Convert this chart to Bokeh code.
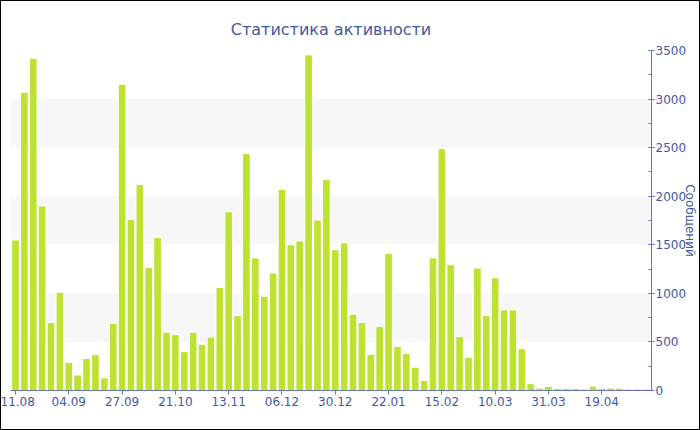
from bokeh.plotting import figure
from bokeh.models import Range1d, FixedTicker, SingleIntervalTicker, InlineStyleSheet
from bokeh.embed import file_html
from bokeh.resources import INLINE

values = [1550, 3070, 3420, 1900, 700, 1010, 290, 160, 330, 370, 130, 690,
          3150, 1760, 2120, 1265, 1575, 600, 575, 400, 600, 475, 550, 1060,
          1840, 770, 2440, 1365, 970, 1210, 2070, 1500, 1540, 3455, 1755, 2175,
          1450, 1520, 785, 700, 370, 660, 1410, 455, 380, 240, 105, 1365,
          2490, 1295, 555, 340, 1260, 770, 1160, 830, 830, 430, 70, 25,
          45, 20, 20, 20, 15, 45, 20, 25, 25, 15, 15, 15]
tick_labels = ["11.08", "04.09", "27.09", "21.10", "13.11", "06.12",
               "30.12", "22.01", "15.02", "10.03", "31.03", "19.04"]
label_step = 6
y_max = 3500
y_title = "Сообщений"
chart_title = "Статистика активности"

xs = list(range(len(values)))
tick_pos = list(range(0, len(values), label_step))[:len(tick_labels)]

TXT = "#4359a3"
AX = "#6478b4"
W, H = 700, 430

p = figure(width=W, height=H, output_backend="svg", toolbar_location=None,
           x_range=Range1d(-0.56, 71.6), y_range=Range1d(0, y_max),
           y_axis_location="right", title=chart_title,
           min_border_left=10, min_border_right=0, min_border_top=50,
           min_border_bottom=40)
p.margin = (0, 0, 0, 0)
p.outline_line_color = None
p.background_fill_color = "white"
p.border_fill_color = None
p.styles = {"box-shadow": "inset 0 0 0 1px #000000", "background-color": "white"}
p.stylesheets = [InlineStyleSheet(css=":host { outline: 1px solid #000; outline-offset: -1px; }")]

p.title.align = "center"
p.title.text_font = "DejaVu Sans"
p.title.text_font_size = "16px"
p.title.text_font_style = "normal"
p.title.text_color = TXT
p.title.offset = 0
p.title.standoff = 24

p.vbar(x=xs, top=values, width=0.86, bottom=0, fill_color="#bee232",
       line_color="white", line_width=1)

p.xgrid.grid_line_color = None
p.ygrid.grid_line_color = None
p.ygrid.band_fill_color = "#f7f7f7"
p.ygrid.band_fill_alpha = 1.0

xa = p.xaxis[0]
xa.ticker = FixedTicker(ticks=tick_pos)
xa.major_label_overrides = {pos: lab for pos, lab in zip(tick_pos, tick_labels)}
xa.axis_line_color = AX
xa.major_tick_line_color = AX
xa.major_tick_in = 0
xa.major_tick_out = 4
xa.minor_tick_line_color = None
xa.major_label_text_font = "DejaVu Sans"
xa.major_label_text_font_size = "12px"
xa.major_label_text_color = TXT
xa.major_label_standoff = 2

ya = p.yaxis[0]
ya.ticker = SingleIntervalTicker(interval=500, num_minor_ticks=2)
ya.axis_line_color = AX
ya.major_tick_line_color = AX
ya.minor_tick_line_color = AX
ya.major_tick_in = 3
ya.major_tick_out = 3
ya.minor_tick_in = 3
ya.minor_tick_out = 0
ya.major_label_text_font = "DejaVu Sans"
ya.major_label_text_font_size = "12px"
ya.major_label_text_color = TXT
ya.major_label_standoff = 1
ya.axis_label = y_title
ya.axis_label_text_font = "DejaVu Sans"
ya.axis_label_text_font_size = "12px"
ya.axis_label_text_font_style = "normal"
ya.axis_label_text_color = TXT
ya.axis_label_text_line_height = 1.0
ya.axis_label_standoff = -6

open("out.html", "w").write(file_html(p, INLINE))
